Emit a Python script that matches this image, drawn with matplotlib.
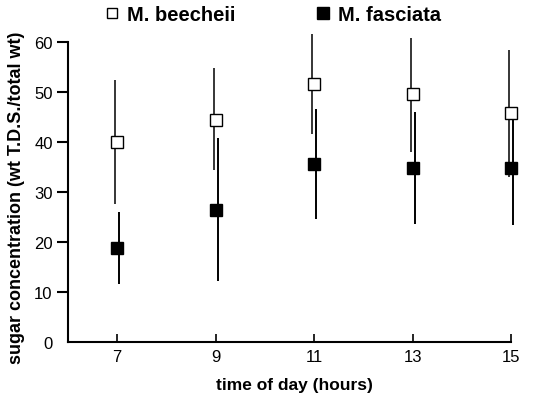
import numpy as np
import matplotlib
matplotlib.use("Agg")
import matplotlib.pyplot as plt

plt.rcParams['font.family'] = ['Liberation Sans', 'DejaVu Sans']

# data
hours = [7, 9, 11, 13, 15]
beecheii_mean = [40.0, 44.5, 51.6, 49.6, 45.8]
beecheii_low = [27.6, 34.4, 41.6, 38.0, 33.0]
beecheii_high = [52.4, 54.8, 61.6, 60.8, 58.4]
fasciata_mean = [18.9, 26.5, 35.6, 34.8, 34.8]
fasciata_low = [11.6, 12.2, 24.6, 23.6, 23.4]
fasciata_high = [26.0, 40.8, 46.6, 46.0, 46.4]

x = np.array(hours, dtype=float)
bm = np.array(beecheii_mean)
fm = np.array(fasciata_mean)
b_err = [bm - np.array(beecheii_low), np.array(beecheii_high) - bm]
f_err = [fm - np.array(fasciata_low), np.array(fasciata_high) - fm]

fig = plt.figure(figsize=(5.37, 4.06), dpi=100)
ax = fig.add_axes([0.1266, 0.155, 0.8434, 0.776])

# error bars slightly offset like the original
ax.errorbar(x - 0.04, bm, yerr=b_err, fmt='none', ecolor='black', elinewidth=1.1, clip_on=False)
ax.errorbar(x + 0.04, fm, yerr=f_err, fmt='none', ecolor='black', elinewidth=1.4, clip_on=False)
ax.plot(x, bm, 's', ms=8, mfc='white', mec='black', mew=1.0, clip_on=False, zorder=5, label='M. beecheii')
ax.plot(x, fm, 's', ms=9, mfc='black', mec='black', clip_on=False, zorder=5, label='M. fasciata')

ax.set_xlim(6, 15.2)
ax.set_ylim(0, 63)
ax.spines['top'].set_visible(False)
ax.spines['right'].set_visible(False)
ax.spines['left'].set_bounds(0, 60)
ax.spines['bottom'].set_bounds(6, 15)
ax.spines['left'].set_linewidth(1.5)
ax.spines['bottom'].set_linewidth(1.5)

ax.set_xticks(hours)
ax.set_yticks([0, 10, 20, 30, 40, 50, 60])
ax.tick_params(axis='x', direction='in', length=6, width=1.2, pad=5, labelsize=12)
ax.tick_params(axis='y', direction='out', length=8, width=1.5, pad=3, labelsize=12)
ax.yaxis.get_major_ticks()[0].tick1line.set_visible(False)

ax.set_xlabel('time of day (hours)', fontsize=12.5, fontweight='bold', labelpad=9)
ax.set_ylabel('sugar concentration (wt T.D.S./total wt)', fontsize=13, fontweight='bold')
ax.yaxis.set_label_coords(-0.095, 0.46)

fig.legend(loc='upper left', bbox_to_anchor=(0.173, 1.015), ncol=2, frameon=False,
           prop={'size': 14.5, 'weight': 'bold'}, handlelength=0.7, handletextpad=0.4,
           columnspacing=4.0, markerscale=0.9, borderaxespad=0.2)

fig.savefig('out.png', dpi=100)
